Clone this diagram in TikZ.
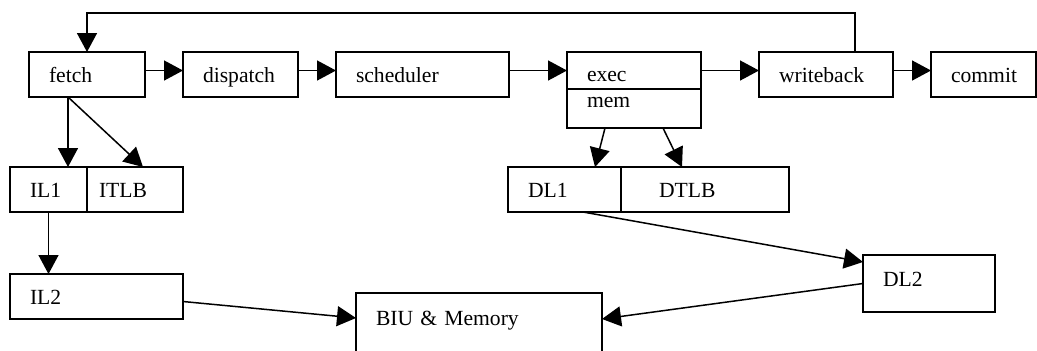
\documentclass[tikz,border=0pt]{standalone}
\usepackage{fontspec}
\setmainfont{Liberation Serif}
\usetikzlibrary{positioning,arrows.meta}
\tikzstyle{stage} = [rectangle,
                     draw=black,
                     line width=0.75pt,
                     outer sep=0pt,
                     inner xsep=10pt,
                     inner ysep=0pt,
                     text height=15pt,
                     text depth=7.5pt,
                     align=left]
\tikzstyle{arrow} = [line width=0.75pt,
                     ->,
                     >={Triangle[length=9.5pt,width=10pt]}]

\begin{document}
\begin{tikzpicture}[x=0.5pt, y=-0.5pt, font=\fontsize{10.8pt}{12pt}\selectfont]

    \useasboundingbox (0,0) rectangle (1037,350);

    % pipeline
    \node (fetch)     [stage, anchor=north west, text width=38pt] at (29,52) {fetch};
    \node (dispatch)  [stage, right=19pt of fetch, text width=37.5pt]          {dispatch};
    \node (scheduler) [stage, right=19pt of dispatch, text width=66.5pt]       {scheduler};
    \node (exec)      [stage, anchor=north west, text width=47pt,
                       text height=14.5pt, text depth=4pt] at (567,52)         {exec};
    \node (mem)       [stage, below=0pt of exec, text width=47pt,
                       text height=9pt, text depth=10.5pt]                     {mem};
    \node (writeback) [stage, anchor=north west, text width=47pt] at (759,52)  {writeback};
    \node (commit)    [stage, right=19pt of writeback, text width=32.5pt]      {commit};

    % memory hierarchy
    \node (IL1)  [stage, anchor=north west, text width=18.5pt] at (10,167)     {IL1};
    \node (ITLB) [stage, right=0pt of IL1, inner xsep=6pt, text width=36pt]    {ITLB};
    \node (IL2)  [stage, anchor=north west, text width=66.5pt] at (10,274)     {IL2};
    \node (DL1)  [stage, anchor=north west, text width=36.5pt] at (508,167)    {DL1};
    \node (DTLB) [stage, right=0pt of DL1, inner xsep=19pt, text width=46pt]   {DTLB};
    \node (DL2)  [stage, anchor=north west, text width=46pt,
                  text height=15.5pt, text depth=13pt] at (863,255)            {DL2};
    \node (BIU)  [stage, anchor=north west, text width=103pt,
                  text height=16pt, text depth=17.5pt] at (356,293)            {BIU \& Memory};

    \foreach \a/\b in {fetch/dispatch, dispatch/scheduler, scheduler/exec,
                       exec/writeback, writeback/commit}
        \draw [arrow] (\a.east |- exec.west) -- (\b.west |- exec.west);
    \draw [arrow] ([xshift=14.5pt]writeback.north) -- ++(0,19.5pt) -| (fetch.north);

    \draw [arrow] ([xshift=-9.5pt]fetch.south) -- ([xshift=-9.5pt]fetch.south |- IL1.north);
    \draw [arrow] ([xshift=-9.5pt]fetch.south) -- ([xshift=4pt]ITLB.north);
    \draw [arrow] (IL1.south) -- (IL1.south |- IL2.north);
    \draw [arrow] ([yshift=-2.5pt]IL2.east) -- ([yshift=-12.5pt]BIU.north west);

    \draw [arrow] ([xshift=-14.5pt]mem.south) -- ([xshift=15.25pt]DL1.north);
    \draw [arrow] ([xshift=14.5pt]mem.south)  -- ([xshift=-11.5pt]DTLB.north);
    \draw [arrow] ([xshift=9.25pt]DL1.south)  -- ([yshift=-3.5pt]DL2.north west);
    \draw [arrow] (DL2.west) -- ([yshift=-13pt]BIU.north east);

\end{tikzpicture}
\end{document}
